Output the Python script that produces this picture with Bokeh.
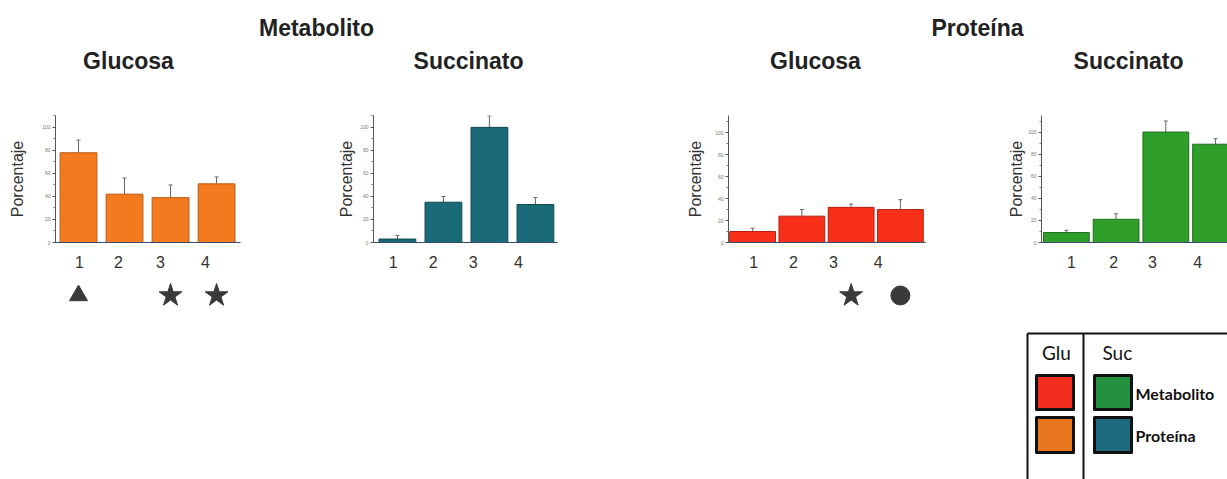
from bokeh.plotting import figure
from bokeh.layouts import column, row
from bokeh.models import ColumnDataSource, Range1d, FixedTicker, Whisker, TeeHead, Spacer
from bokeh.embed import file_html
from bokeh.resources import INLINE
from bokeh.core.properties import value

# ---------------- data ----------------
categories = [1, 2, 3, 4]
tick_labels = ["1", "2", "3", "4"]

met_glu = [78, 42, 39, 51]
met_glu_err = [11, 14, 11, 6]
met_suc = [3, 35, 100, 33]
met_suc_err = [3, 5, 10, 6]
pro_glu = [10, 24, 32, 30]
pro_glu_err = [3, 6, 3, 9]
pro_suc = [9, 21, 100, 89]
pro_suc_err = [2, 5, 10, 5]

met_glu_marks_x = [1, 3, 4]
met_glu_marks = ["triangle", "star", "star"]
pro_glu_marks_x = [3, 4]
pro_glu_marks = ["star", "circle"]

group_titles = ["Metabolito", "Proteína"]
panel_titles = ["Glucosa", "Succinato", "Glucosa", "Succinato"]
legend_cols = ["Glu", "Suc"]
legend_rows = ["Metabolito", "Proteína"]

FONT = "Liberation Sans"
ROW_H = 202


def style_fig(p):
    p.grid.visible = False
    p.outline_line_color = None
    p.background_fill_color = "white"
    p.border_fill_color = "white"


def bare_fig(width, height, xr, yr):
    f = figure(width=width, height=height, x_range=Range1d(*xr), y_range=Range1d(*yr),
               output_backend="svg", toolbar_location=None, min_border=0,
               x_axis_location=None, y_axis_location=None)
    style_fig(f)
    return f


def panel(vals, errs, color, edge, xr, ymax, bw, label_pos, width, bl, br, bt, bb, ylab_standoff):
    p = figure(width=width, height=ROW_H, x_range=Range1d(*xr), y_range=Range1d(0, ymax),
               output_backend="svg", toolbar_location=None,
               min_border_left=bl, min_border_right=br, min_border_top=bt, min_border_bottom=bb)
    style_fig(p)
    src = ColumnDataSource(dict(x=categories, top=vals,
                                up=[v + e for v, e in zip(vals, errs)]))
    p.vbar(x="x", top="top", width=bw, source=src, fill_color=color, line_color=edge, line_width=1)
    p.add_layout(Whisker(source=src, base="x", lower="top", upper="up", line_color="#666666",
                         line_width=1, lower_head=None,
                         upper_head=TeeHead(size=4, line_color="#666666", line_width=1)))
    # x axis
    xa = p.xaxis[0]
    xa.ticker = FixedTicker(ticks=label_pos)
    xa.major_label_overrides = {pos: lab for pos, lab in zip(label_pos, tick_labels)}
    xa.major_tick_in = 0
    xa.major_tick_out = 0
    xa.minor_tick_line_color = None
    xa.major_label_standoff = 13
    xa.major_label_text_font = FONT
    xa.major_label_text_font_size = "16px"
    xa.major_label_text_color = "#333333"
    xa.axis_line_color = "#3a4a70"
    # y axis
    ya = p.yaxis[0]
    ya.ticker = FixedTicker(ticks=[0, 20, 40, 60, 80, 100], minor_ticks=[10, 30, 50, 70, 90, 110])
    ya.major_tick_out = 3
    ya.major_tick_in = 0
    ya.minor_tick_out = 2
    ya.minor_tick_in = 0
    ya.major_tick_line_color = "#555555"
    ya.minor_tick_line_color = "#777777"
    ya.axis_line_color = "#555555"
    ya.major_label_text_font_size = "5px"
    ya.major_label_text_color = "#777777"
    ya.major_label_standoff = 2
    ya.axis_label = "Porcentaje"
    ya.axis_label_text_font = FONT
    ya.axis_label_text_font_size = "16px"
    ya.axis_label_text_font_style = "normal"
    ya.axis_label_text_color = "#333333"
    ya.axis_label_standoff = ylab_standoff
    return p


def marker_fig(p, width, bl, br, xs, kinds, sizes):
    m = figure(width=width, height=30, x_range=p.x_range, y_range=Range1d(0, 1),
               output_backend="svg", toolbar_location=None,
               min_border_left=bl, min_border_right=br, min_border_top=0, min_border_bottom=0,
               x_axis_location=None, y_axis_location=None)
    style_fig(m)
    src = ColumnDataSource(dict(x=xs, y=[0.5] * len(xs), marker=kinds, size=sizes))
    m.scatter(x="x", y="y", marker="marker", size="size", source=src,
              fill_color="#3a3a3a", line_color="#3a3a3a")
    return m


# panels
p1 = panel(met_glu, met_glu_err, "#F37A1F", "#B85A14", (0.5, 4.52), 110.4, 0.8,
           [1.02, 1.87, 2.78, 3.76], 326, 55, 86, 37, 38, 13)
p2 = panel(met_suc, met_suc_err, "#1B6A77", "#124852", (0.48, 4.48), 110.3, 0.8,
           [0.91, 1.78, 2.65, 3.63], 355, 47, 124, 37, 37, 2)
p3 = panel(pro_glu, pro_glu_err, "#F8301A", "#B02010", (0.51, 4.51), 115.7, 0.93,
           [1.02, 1.83, 2.64, 3.55], 313, 47, 69, 19, 36, 8)
p4 = panel(pro_suc, pro_suc_err, "#2F9E2B", "#1E6E1C", (0.5, 4.24), 115.0, 0.92,
           [1.1, 1.95, 2.73, 3.64], 233, 47, 0, 20, 35, 0)

m1 = marker_fig(p1, 326, 55, 86, met_glu_marks_x, met_glu_marks, [18, 24, 24])
m3 = marker_fig(p3, 313, 47, 69, pro_glu_marks_x, pro_glu_marks, [24, 19])

# header with titles
hdr = bare_fig(1227, 78, (0, 1227), (78, 0))
hdr.text(x=[316, 977], y=[27, 27], text=group_titles, text_font=value(FONT),
         text_font_size="23px", text_font_style="bold", text_color="#222222",
         text_align="center", text_baseline="middle")
hdr.text(x=[128, 468, 815, 1128], y=[60, 60, 60, 60], text=panel_titles, text_font=value(FONT),
         text_font_size="23px", text_font_style="bold", text_color="#222222",
         text_align="center", text_baseline="middle")

# legend drawn as a small table
lg = bare_fig(233, 199, (0, 233), (199, 0))
lg.segment(x0=[33, 33, 89], y0=[53, 53, 53], x1=[233, 33, 89], y1=[53, 199, 199],
           line_color="#111111", line_width=2)
lg.text(x=[62], y=[72], text=[legend_cols[0]], text_font=value("Lato"), text_font_size="19px",
        text_color="#111111", text_align="center", text_baseline="middle")
lg.text(x=[108], y=[72], text=[legend_cols[1]], text_font=value("Lato"), text_font_size="19px",
        text_color="#111111", text_align="left", text_baseline="middle")
lg.quad(left=[42, 42, 100, 100], right=[79, 79, 137, 137], top=[95, 137, 95, 137],
        bottom=[129, 172, 129, 172],
        fill_color=["#F52D1F", "#E8771F", "#23913F", "#1E6B80"],
        line_color="#111111", line_width=3, line_join="round")
lg.text(x=[141, 141], y=[113, 155], text=legend_rows, text_font=value("Lato"),
        text_font_size="16px", text_font_style="bold", text_color="#111111",
        text_align="left", text_baseline="middle")

layout = column(hdr,
                row(p1, p2, p3, p4),
                row(m1, Spacer(width=355, height=30), m3, lg))

open("out.html", "w").write(file_html(layout, INLINE))
